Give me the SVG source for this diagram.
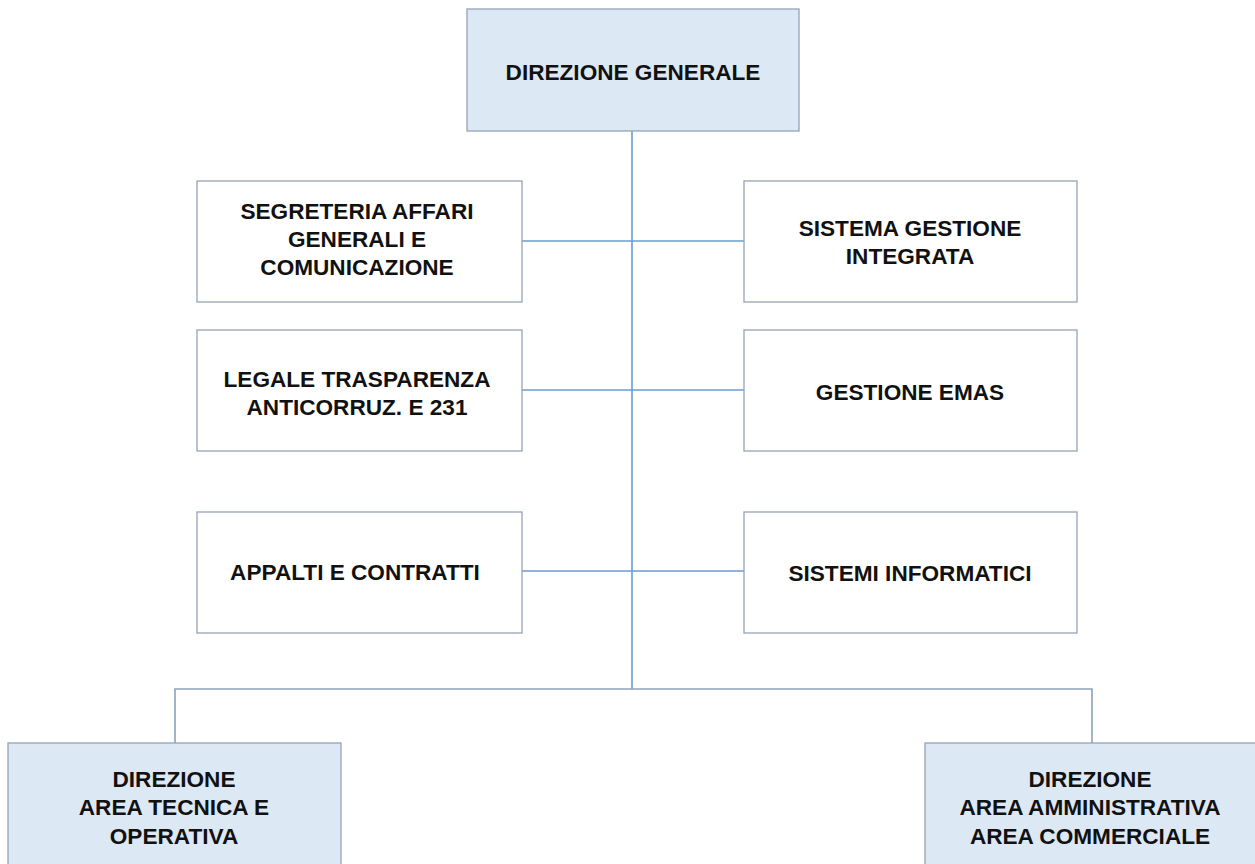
<svg xmlns="http://www.w3.org/2000/svg" width="1255" height="864" viewBox="0 0 1255 864">
<style>
.box{fill:#ffffff;stroke:#95a3b5;stroke-width:1.3}
.hi{fill:#dde8f5;stroke:#95a3b5;stroke-width:1.3}
.ln{stroke:#6b9bd1;stroke-width:1.6;fill:none}
.lg{stroke:#8da2b8;stroke-width:1.6;fill:none}
text{font-family:"Liberation Sans",Arial,sans-serif;font-weight:bold;font-size:22.6px;fill:#111111;text-anchor:middle}
</style>
<rect x="0" y="0" width="1255" height="864" fill="#ffffff"/>
<g id="connectors">
<line class="ln" x1="632" y1="131" x2="632" y2="689"/>
<line class="ln" x1="522" y1="241" x2="744" y2="241"/>
<line class="ln" x1="522" y1="390" x2="744" y2="390"/>
<line class="ln" x1="522" y1="571" x2="744" y2="571"/>
<polyline class="lg" points="175,743 175,689 1092,689 1092,743"/>
</g>
<g id="direzione-generale">
<rect class="hi" x="467" y="9" width="332" height="122"/>
<text x="633" y="79.5">DIREZIONE GENERALE</text>
</g>
<g id="segreteria">
<rect class="box" x="197" y="181" width="325" height="121"/>
<text x="357" y="219">SEGRETERIA AFFARI</text>
<text x="357" y="247">GENERALI E</text>
<text x="357" y="275">COMUNICAZIONE</text>
</g>
<g id="sistema-gestione">
<rect class="box" x="744" y="181" width="333" height="121"/>
<text x="910" y="236">SISTEMA GESTIONE</text>
<text x="910" y="264">INTEGRATA</text>
</g>
<g id="legale">
<rect class="box" x="197" y="330" width="325" height="121"/>
<text x="357" y="387">LEGALE TRASPARENZA</text>
<text x="357" y="415">ANTICORRUZ. E 231</text>
</g>
<g id="emas">
<rect class="box" x="744" y="330" width="333" height="121"/>
<text x="910" y="400">GESTIONE EMAS</text>
</g>
<g id="appalti">
<rect class="box" x="197" y="512" width="325" height="121"/>
<text x="355" y="580">APPALTI E CONTRATTI</text>
</g>
<g id="sistemi-informatici">
<rect class="box" x="744" y="512" width="333" height="121"/>
<text x="910" y="581">SISTEMI INFORMATICI</text>
</g>
<g id="area-tecnica">
<rect class="hi" x="8" y="743" width="333" height="140"/>
<text x="174" y="786.5">DIREZIONE</text>
<text x="174" y="815">AREA TECNICA E</text>
<text x="174" y="843.5">OPERATIVA</text>
</g>
<g id="area-amministrativa">
<rect class="hi" x="925" y="743" width="340" height="140"/>
<text x="1090" y="786.5">DIREZIONE</text>
<text x="1090" y="815">AREA AMMINISTRATIVA</text>
<text x="1090" y="843.5">AREA COMMERCIALE</text>
</g>
</svg>
